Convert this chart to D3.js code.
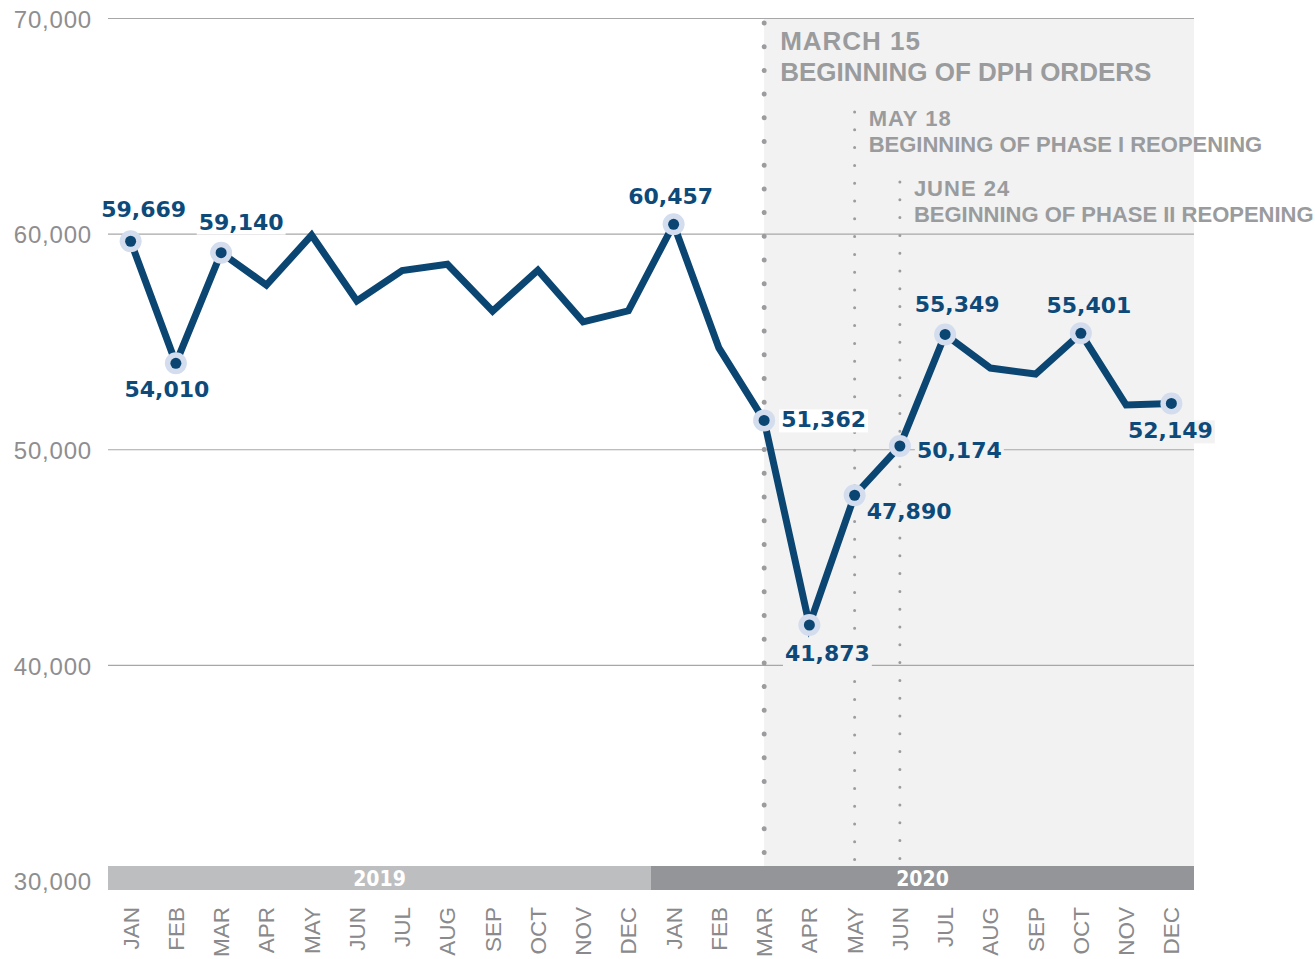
<!DOCTYPE html>
<html><head><meta charset="utf-8">
<script src="https://cdn.jsdelivr.net/npm/d3@7"></script>
<style>body{margin:0;background:#fff;} svg{display:block;}</style>
</head><body><svg id="chart" width="1315" height="959"></svg>
<script>
// ---- data ----
const months = ["JAN","FEB","MAR","APR","MAY","JUN","JUL","AUG","SEP","OCT","NOV","DEC",
                "JAN","FEB","MAR","APR","MAY","JUN","JUL","AUG","SEP","OCT","NOV","DEC"];
const years = ["2019","2020"];
const values = [59669, 54010, 59140, 57640, 59950, 56900, 58310, 58600, 56430, 58330, 55930, 56445,
                60457, 54720, 51362, 41873, 47890, 50174, 55349, 53790, 53510, 55401, 52075, 52149];
const labeledIndex = [0, 1, 2, 12, 14, 15, 16, 17, 18, 21, 23];
const yTicks = [30000, 40000, 50000, 60000, 70000];
const eventIndex = [14, 16, 17];
const eventDates = ["MARCH 15", "MAY 18", "JUNE 24"];
const eventTexts = ["BEGINNING OF DPH ORDERS", "BEGINNING OF PHASE I REOPENING", "BEGINNING OF PHASE II REOPENING"];

// ---- layout / style ----
const labelPlace = {
  0:{dx:13,dy:-24,a:"middle"}, 1:{dx:-9,dy:34,a:"middle"}, 2:{dx:20,dy:-23,a:"middle"},
  12:{dx:-3,dy:-20,a:"middle"}, 14:{dx:17,dy:7,a:"start"}, 15:{dx:18,dy:36,a:"middle"},
  16:{dx:12,dy:24,a:"start"}, 17:{dx:17,dy:12,a:"start"}, 18:{dx:12,dy:-22,a:"middle"},
  21:{dx:8,dy:-20,a:"middle"}, 23:{dx:-1,dy:35,a:"middle"}
};
const eventStyle = [
  {dateY:50, textY:81, dateSize:26, textSize:26, lineTop:23, r:5, gap:23.7},
  {dateY:126, textY:152, dateSize:22, textSize:22, lineTop:112, r:3, gap:17.8},
  {dateY:196, textY:222, dateSize:22, textSize:22, lineTop:182, r:3, gap:17.8}
];
const navy = "#0b4672", gray = "#8a8a8c", annGray = "#9a9b9d", shade = "#f2f2f2";
const svg = d3.select("#chart");
const L = 108, R = 1194, barTop = 866, barBot = 890;

const x = d3.scaleBand().domain(d3.range(months.length)).range([L, R]).paddingInner(0).paddingOuter(0);
const bw = x.bandwidth();
const cx = i => x(i) + bw / 2;
const y = d3.scaleLinear().domain([30000, 70000]).range([881, 18.5]);

// shaded region
const shadeX = cx(eventIndex[0]);
svg.append("rect").attr("x", shadeX).attr("y", y(70000)).attr("width", R - shadeX)
  .attr("height", barTop - y(70000)).attr("fill", shade);

// gridlines
svg.append("g").selectAll("line").data(yTicks.filter(d => d > 30000)).join("line")
  .attr("x1", L).attr("x2", R).attr("y1", d => y(d)).attr("y2", d => y(d))
  .attr("stroke", "#a7a7a9").attr("stroke-width", 1.2);

// y axis labels
const yAxis = svg.append("g").attr("transform", "translate(92,0)")
  .call(d3.axisLeft(y).tickValues(yTicks).tickSize(0).tickPadding(0).tickFormat(d3.format(",")));
yAxis.select(".domain").remove();
yAxis.selectAll("text").attr("fill", "#8e8e90").style("font-family", "'Liberation Sans', Arial, sans-serif")
  .style("font-size", "24px").attr("dy", "0.36em").attr("letter-spacing", "0.8px");

// year bars
const yearBars = svg.append("g");
years.forEach((yr, k) => {
  const x0 = x(k * 12), x1 = (k === years.length - 1) ? R : x((k + 1) * 12);
  yearBars.append("rect").attr("x", x0).attr("y", barTop).attr("width", x1 - x0).attr("height", barBot - barTop)
    .attr("fill", k === 0 ? "#bdbec0" : "#939598");
  yearBars.append("text").attr("x", (x0 + x1) / 2).attr("y", (barTop + barBot) / 2).attr("dy", "0.36em")
    .attr("text-anchor", "middle").attr("fill", "#fff")
    .style("font-family", "'DejaVu Sans Condensed', 'DejaVu Sans', sans-serif")
    .style("font-weight", "bold").style("font-size", "21px").text(yr);
});

// x axis month labels
const xAxis = svg.append("g").attr("transform", `translate(0,${barBot})`)
  .call(d3.axisBottom(x).tickSize(0).tickFormat(i => months[i]));
xAxis.select(".domain").remove();
xAxis.selectAll("text").attr("transform", "rotate(-90)").attr("x", -17).attr("y", 0).attr("dy", "0.36em")
  .style("text-anchor", "end").attr("fill", gray)
  .style("font-family", "'Liberation Sans', Arial, sans-serif").style("font-size", "22.5px");

// event dotted lines + annotations
eventIndex.forEach((idx, k) => {
  const st = eventStyle[k], ex = cx(idx);
  svg.append("line").attr("x1", ex).attr("x2", ex).attr("y1", st.lineTop).attr("y2", k === 0 ? 856 : 862)
    .attr("stroke", "#9c9c9e").attr("stroke-width", st.r).attr("stroke-linecap", "round")
    .attr("stroke-dasharray", `0 ${st.gap}`);
  const tx = ex + (k === 0 ? 16 : 14);
  svg.append("text").attr("x", tx).attr("y", st.dateY).attr("fill", annGray)
    .style("font-family", "'Liberation Sans', Arial, sans-serif").style("font-weight", "bold")
    .style("font-size", st.dateSize + "px").attr("letter-spacing", "1px").text(eventDates[k]);
  svg.append("text").attr("x", tx).attr("y", st.textY).attr("fill", annGray)
    .style("font-family", "'Liberation Sans', Arial, sans-serif").style("font-weight", "bold")
    .style("font-size", st.textSize + "px").attr("letter-spacing", "0px").text(eventTexts[k]);
});

// line
const lineGen = d3.line().x((d, i) => cx(i)).y(d => y(d));
svg.append("path").datum(values).attr("d", lineGen).attr("fill", "none")
  .attr("stroke", navy).attr("stroke-width", 7).attr("stroke-linejoin", "miter");

// markers
const mk = svg.append("g");
labeledIndex.forEach(i => {
  mk.append("circle").attr("cx", cx(i)).attr("cy", y(values[i])).attr("r", 11).attr("fill", "#d3ddee");
  mk.append("circle").attr("cx", cx(i)).attr("cy", y(values[i])).attr("r", 5.5).attr("fill", navy);
});

// labels
const lg = svg.append("g");
labeledIndex.forEach(i => {
  const p = labelPlace[i];
  const g = lg.append("g");
  const t = g.append("text").attr("x", cx(i) + p.dx).attr("y", y(values[i]) + p.dy)
    .attr("text-anchor", p.a).attr("fill", "#0d4a7a")
    .style("font-family", "'DejaVu Sans', sans-serif").style("font-weight", "bold").style("font-size", "22px")
    .text(d3.format(",")(values[i]));
  const b = t.node().getBBox();
  g.insert("rect", "text").attr("x", b.x - 2).attr("y", b.y + 2).attr("width", b.width + 4).attr("height", b.height - 2)
    .attr("fill", cx(i) > shadeX ? shade : "#fff");
});
</script></body></html>
